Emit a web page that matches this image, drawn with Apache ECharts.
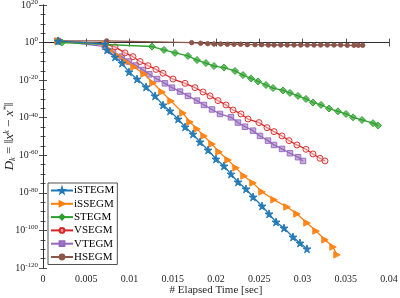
<!DOCTYPE html>
<html><head><meta charset="utf-8">
<script src="https://cdn.jsdelivr.net/npm/echarts@6/dist/echarts.min.js"></script>
<style>html,body{margin:0;padding:0;background:#fff}#c{width:400px;height:298px}</style>
</head><body><div id="c"></div>
<script>
// Elapsed time [sec] and log10(D_k) per method
const names = ['iSTEGM','iSSEGM','STEGM','VSEGM','VTEGM','HSEGM'];
const colors = ['#1f77b4','#ff7f0e','#2ca02c','#d62728','#9467bd','#8c564b'];

const iSTEGM_t = [0.00173,0.00717,0.0074,0.00832,0.00913,0.00994,0.01087,0.01191,0.01295,0.01387,0.01468,0.01561,0.01642,0.01734,0.01815,0.01908,0.02000,0.02092,0.02173,0.02254,0.02347,0.02428,0.02532,0.02613,0.02694,0.02786,0.02890,0.02971,0.03052];
const iSTEGM_e = [0.85,-0.75,-3.9,-7.7,-10.9,-15.6,-19.4,-23.6,-28.4,-33.2,-36.4,-40.7,-44.9,-48.7,-52.9,-57.2,-62.0,-65.7,-70.0,-74.2,-77.9,-82.2,-87.0,-91.2,-95.5,-98.7,-103.5,-106.7,-109.8];

const iSSEGM_t = [0.00173,0.00717,0.00775,0.00867,0.00960,0.01052,0.01168,0.01272,0.01376,0.01480,0.01618,0.01699,0.01780,0.01861,0.01954,0.02035,0.02139,0.02231,0.02324,0.02428,0.02532,0.02671,0.02821,0.02936,0.03052,0.03156,0.03260,0.03353,0.03399];
const iSSEGM_e = [0.85,-0.75,-3.9,-7.1,-10.3,-13.0,-16.7,-21.5,-26.3,-31.1,-37.5,-42.3,-46.0,-49.7,-54.0,-58.2,-62.5,-66.7,-71.0,-74.7,-79.5,-83.7,-87.5,-91.2,-96.0,-100.3,-105.0,-108.8,-113.0];

const STEGM_t = [0.00173,0.00220,0.01260,0.01399,0.01526,0.01676,0.01780,0.01884,0.01977,0.02092,0.02220,0.02312,0.02405,0.02486,0.02578,0.02659,0.02775,0.02855,0.02948,0.03040,0.03121,0.03214,0.03306,0.03410,0.03503,0.03584,0.03688,0.03815,0.03873];
const STEGM_e = [0.85,0,-2.1,-3.9,-5.5,-7.1,-9.3,-10.9,-12.5,-13.3,-15.1,-17.3,-19.1,-20.7,-22.6,-24.2,-25.5,-26.8,-28.4,-30.0,-31.9,-33.2,-35.1,-36.6,-38.0,-39.8,-41.2,-42.9,-44.2];

const VSEGM_t = [0.00173,0.00717,0.00832,0.00948,0.01040,0.01121,0.01214,0.01306,0.01387,0.01503,0.01642,0.01757,0.01850,0.01931,0.02023,0.02116,0.02197,0.02289,0.02370,0.02497,0.02590,0.02671,0.02763,0.02844,0.02936,0.03040,0.03121,0.03202,0.03260];
const VSEGM_e = [0.85,-0.75,-2.3,-5.5,-7.5,-10.1,-12.3,-14.3,-16.3,-19.4,-21.7,-24.0,-26.3,-28.4,-30.9,-33.2,-35.9,-38.0,-40.7,-42.6,-45.3,-47.4,-49.7,-52.2,-54.5,-56.8,-59.3,-61.6,-63.0];

const VTEGM_t = [0.00173,0.00717,0.00809,0.00910,0.00994,0.01075,0.01156,0.01229,0.01318,0.01410,0.01491,0.01584,0.01676,0.01780,0.01861,0.01954,0.02046,0.02173,0.02254,0.02335,0.02428,0.02509,0.02601,0.02671,0.02763,0.02855,0.02948,0.03006];
const VTEGM_e = [0.85,-2.2,-4.8,-7.5,-10.1,-12.2,-14.6,-16.9,-19.4,-21.7,-24.0,-26.1,-28.4,-30.9,-33.2,-35.6,-38.0,-39.8,-42.6,-44.8,-46.9,-49.7,-52.2,-54.5,-56.6,-58.9,-61.0,-63.0];

const HSEGM_t = [0.00173,0.00736,0.01719,0.01823,0.01904,0.01977,0.02054,0.02131,0.02208,0.02285,0.02362,0.02451,0.02528,0.02605,0.02671,0.02748,0.02824,0.02902,0.02979,0.03056,0.03133,0.03210,0.03287,0.03364,0.03441,0.03518,0.03595,0.03645,0.03696];
const HSEGM_e = [0.85,0.85,-0.05,-0.37,-0.6,-0.75,-0.75,-0.9,-0.9,-0.9,-1.1,-1.1,-1.1,-1.3,-1.3,-1.3,-1.3,-1.3,-1.3,-1.3,-1.3,-1.3,-1.3,-1.3,-1.3,-1.45,-1.45,-1.45,-1.45];

const xTicks = [0,0.005,0.01,0.015,0.02,0.025,0.03,0.035,0.04];
const yTicks = [20,0,-20,-40,-60,-80,-100,-120];

const seriesT = [iSTEGM_t,iSSEGM_t,STEGM_t,VSEGM_t,VTEGM_t,HSEGM_t];
const seriesE = [iSTEGM_e,iSSEGM_e,STEGM_e,VSEGM_e,VTEGM_e,HSEGM_e];

const STAR = 'path://M50,0 L61,35 L98,35 L68,57 L79,91 L50,70 L21,91 L32,57 L2,35 L39,35 Z';
const symbols = [STAR,'triangle','diamond','circle','rect','circle'];
const symRot = [0,-90,0,0,0,0];
const symSize = [8,6.5,7,6,5.5,4.5];
const fills = ['rgba(31,119,180,0.9)','rgba(255,127,14,0.9)','rgba(44,160,44,0.7)','rgba(255,215,215,0.5)','rgba(148,103,189,0.55)','#8c564b'];

const chart = echarts.init(document.getElementById('c'));
const FONT = '"Liberation Serif","DejaVu Serif",serif';
const axCol = '#262626';

const series = names.map((n,i)=>({
  name:n, type:'line',
  data: seriesT[i].map((t,k)=>[t, seriesE[i][k]]),
  xAxisIndex:0, yAxisIndex:0,
  symbol: symbols[i], symbolRotate: symRot[i], symbolSize: symSize[i],
  showAllSymbol:true,
  lineStyle:{color:colors[i], width:1.3},
  itemStyle:{color:fills[i], borderColor:colors[i], borderWidth:0.9},
  z: 10-i,
  animation:false
}));

chart.setOption({
  animation:false,
  backgroundColor:'#fff',
  grid:{left:43,right:11,top:5,bottom:30,containLabel:false,outerBoundsMode:'none'},
  legend:{
    orient:'vertical', left:48, top:183,
    data:names,
    itemWidth:22, itemHeight:6, itemGap:0.3,
    textStyle:{fontFamily:FONT,fontSize:11,color:'#000',lineHeight:13,padding:[0,0,0,-4]},
    backgroundColor:'#fff', borderColor:'#262626', borderWidth:0.8,
    padding:[1,3,1,2]
  },
  xAxis:[{
    type:'value', min:0, max:0.04, interval:0.005,
    name:'# Elapsed Time [sec]', nameLocation:'middle', nameGap:17, nameMoveOverlap:false,
    nameTextStyle:{fontFamily:FONT,fontSize:11,color:axCol},
    axisLine:{show:true,lineStyle:{color:axCol,width:0.8}},
    axisTick:{show:true,inside:true,length:4,lineStyle:{color:axCol,width:0.8}},
    axisLabel:{fontFamily:FONT,fontSize:10,color:axCol,margin:6,
      formatter:v=>{const r=xTicks.find(x=>Math.abs(x-v)<1e-9); return r===0?'0':String(r);}},
    splitLine:{show:false}
  },{
    type:'value', min:0, max:0.04, interval:0.005, position:'top',
    axisLine:{show:true,lineStyle:{color:axCol,width:0.8}},
    axisTick:{show:true,inside:true,length:4,lineStyle:{color:axCol,width:0.8}},
    axisLabel:{show:false}, splitLine:{show:false}
  }],
  yAxis:[{
    type:'value', min:-120, max:20, interval:20,
    name:'{i|D}{sub|k}{n| = ‖}{i|x}{sup|k}{n| − }{i|x}{sup|*}{n|‖}',
    nameLocation:'middle', nameGap:25, nameRotate:90, nameMoveOverlap:false,
    nameTextStyle:{fontFamily:FONT,fontSize:13,color:axCol,
      rich:{
        i:{fontFamily:FONT,fontStyle:'italic',fontSize:13,color:axCol},
        n:{fontFamily:FONT,fontSize:13,color:axCol},
        sub:{fontFamily:FONT,fontStyle:'italic',fontSize:8.5,color:axCol,padding:[6,0,0,0]},
        sup:{fontFamily:FONT,fontStyle:'italic',fontSize:8.5,color:axCol,padding:[0,0,7,0]}
      }},
    axisLine:{show:true,lineStyle:{color:axCol,width:0.8}},
    axisTick:{show:true,inside:true,length:4,lineStyle:{color:axCol,width:0.8}},
    minorTick:{show:true,splitNumber:4,length:2.5,lineStyle:{color:axCol,width:0.8}},
    axisLabel:{margin:5,
      formatter:v=>'{b|10}{s|'+Math.round(v)+'}',
      rich:{
        b:{fontFamily:FONT,fontSize:10,color:axCol},
        s:{fontFamily:FONT,fontSize:7,color:axCol,padding:[0,0,6,0]}
      }},
    splitLine:{show:false}
  },{
    type:'value', min:-120, max:20, interval:20, position:'right',
    axisLine:{show:true,lineStyle:{color:axCol,width:0.8}},
    axisTick:{show:true,inside:true,length:4,lineStyle:{color:axCol,width:0.8}},
    minorTick:{show:true,splitNumber:4,length:2.5,lineStyle:{color:axCol,width:0.8}},
    axisLabel:{show:false}, splitLine:{show:false}
  }],
  series: series
});
</script></body></html>
